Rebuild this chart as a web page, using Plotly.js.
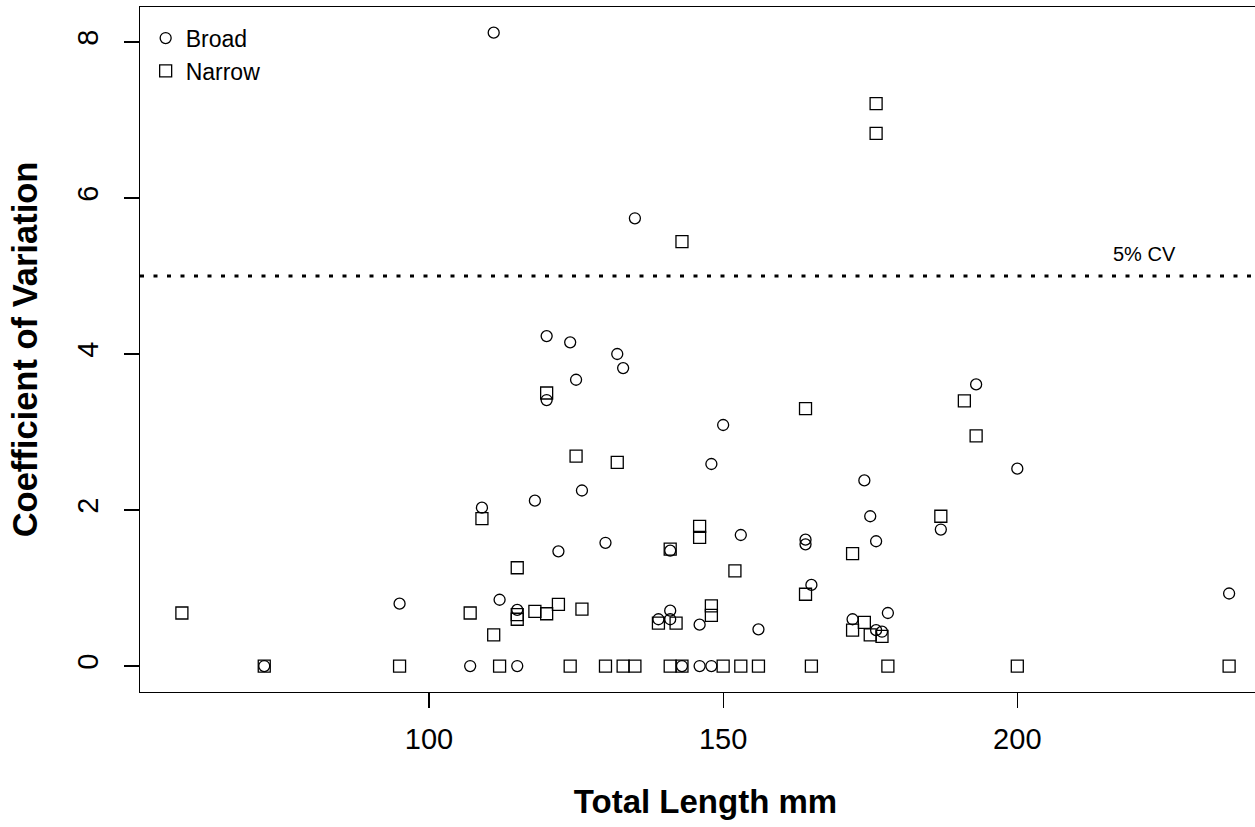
<!DOCTYPE html>
<html>
<head>
<meta charset="utf-8">
<script src="https://cdn.plot.ly/plotly-3.0.1.min.js"></script>
<style>
html, body { margin: 0; padding: 0; overflow: hidden; background: #fff; }
#chart { width: 1271px; height: 827px; }
</style>
</head>
<body>
<div id="chart"></div>
<script>
// Broad (circles)
const broadX = [72, 95, 107, 109, 111, 112, 115, 115, 118, 120, 120, 122, 124, 125, 126, 130, 132, 133, 135,
  139, 141, 141, 141, 143, 146, 146, 148, 148, 150, 153, 156, 164, 164, 165, 172, 174, 175, 176, 176, 177, 178,
  187, 193, 200, 236];
const broadY = [0, 0.80, 0, 2.03, 8.12, 0.85, 0, 0.72, 2.12, 4.23, 3.41, 1.47, 4.15, 3.67, 2.25, 1.58, 4.00, 3.82, 5.74,
  0.60, 0.71, 0.60, 1.48, 0, 0, 0.53, 0, 2.59, 3.09, 1.68, 0.47, 1.62, 1.56, 1.04, 0.60, 2.38, 1.92, 1.60, 0.46, 0.44, 0.68,
  1.75, 3.61, 2.53, 0.93];

// Narrow (squares)
const narrowX = [58, 72, 95, 107, 109, 111, 112, 115, 115, 115, 118, 120, 120, 122, 124, 125, 126, 130, 132, 133, 135,
  139, 141, 141, 142, 143, 143, 146, 146, 148, 148, 150, 152, 153, 156, 164, 164, 165, 172, 172, 174, 175, 176, 176,
  177, 178, 187, 191, 193, 200, 236];
const narrowY = [0.68, 0, 0, 0.68, 1.89, 0.40, 0, 1.26, 0.66, 0.60, 0.70, 3.50, 0.67, 0.79, 0, 2.69, 0.73, 0, 2.61, 0, 0,
  0.55, 1.50, 0, 0.55, 5.44, 0, 1.79, 1.65, 0.77, 0.65, 0, 1.22, 0, 0, 3.30, 0.92, 0, 1.44, 0.46, 0.56, 0.40, 7.21, 6.83,
  0.38, 0, 1.92, 3.40, 2.95, 0, 0];

const seriesNames = ["Broad", "Narrow"];
const xTicks = [100, 150, 200];
const yTicks = [0, 2, 4, 6, 8];
const cvThreshold = 5;
const cvLabel = "5% CV";
const cvLabelX = 221.7;
const cvLabelY = 5.28;

const FONT = "Liberation Sans, Arial, Helvetica, sans-serif";

const traces = [
  {
    x: broadX, y: broadY, name: seriesNames[0], type: "scatter", mode: "markers",
    marker: { symbol: "circle-open", size: 11, color: "#000", line: { width: 1.3, color: "#000" } }
  },
  {
    x: narrowX, y: narrowY, name: seriesNames[1], type: "scatter", mode: "markers",
    marker: { symbol: "square-open", size: 12, color: "#000", line: { width: 1.3, color: "#000" } }
  }
];

const layout = {
  width: 1271, height: 827,
  margin: { l: 140, r: 0, t: 7, b: 135, pad: 0 },
  paper_bgcolor: "#fff", plot_bgcolor: "#fff",
  showlegend: true,
  legend: {
    x: 0.005, y: 0.986, xanchor: "left", yanchor: "top",
    bgcolor: "rgba(0,0,0,0)", borderwidth: 0,
    font: { family: FONT, size: 23, color: "#000" },
    itemwidth: 30
  },
  xaxis: {
    range: [50.88, 243.12], autorange: false,
    tickvals: xTicks, ticktext: xTicks.map(String),
    ticks: "outside", ticklen: 15, tickwidth: 1.3, tickcolor: "#000",
    showline: true, linecolor: "#000", linewidth: 1.3, mirror: true,
    showgrid: false, zeroline: false,
    tickfont: { family: FONT, size: 29, color: "#000" },
    ticklabelstandoff: 6,
    title: { text: "Total Length mm", font: { family: FONT, size: 33, weight: "bold", color: "#000" }, standoff: 35 }
  },
  yaxis: {
    range: [-0.333, 8.449], autorange: false,
    tickvals: yTicks, ticktext: yTicks.map(String),
    tickangle: -90,
    ticks: "outside", ticklen: 15, tickwidth: 1.3, tickcolor: "#000",
    showline: true, linecolor: "#000", linewidth: 1.3, mirror: true,
    showgrid: false, zeroline: false,
    tickfont: { family: FONT, size: 29, color: "#000" },
    ticklabelstandoff: 14,
    title: { text: "Coefficient of Variation", font: { family: FONT, size: 34.5, weight: "bold", color: "#000" }, standoff: 24 }
  },
  shapes: [
    {
      type: "line", xref: "paper", x0: 0, x1: 1, yref: "y", y0: cvThreshold, y1: cvThreshold,
      line: { color: "#000", width: 3, dash: "4px,9.5px" }
    }
  ],
  annotations: [
    {
      x: cvLabelX, y: cvLabelY, xref: "x", yref: "y", text: cvLabel, showarrow: false,
      xanchor: "center", yanchor: "middle",
      font: { family: FONT, size: 20, color: "#000" }
    }
  ]
};

Plotly.newPlot("chart", traces, layout, { displayModeBar: false, staticPlot: true });
</script>
</body>
</html>
